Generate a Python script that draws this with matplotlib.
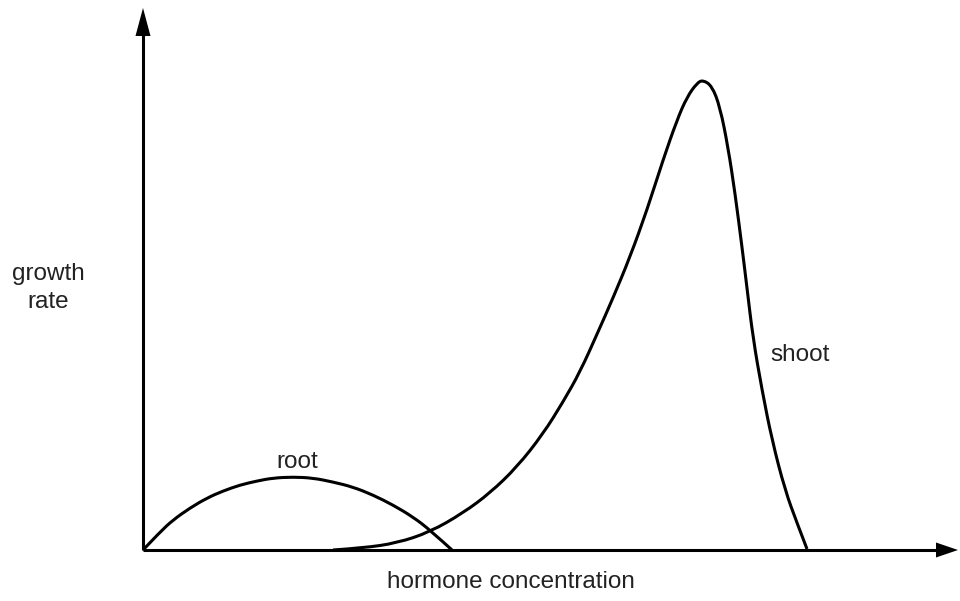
import matplotlib
matplotlib.use("Agg")
import matplotlib.pyplot as plt
from matplotlib.path import Path
from matplotlib.patches import PathPatch

plt.rcParams["font.family"] = ["Liberation Sans", "DejaVu Sans"]

# curves (arbitrary units: concentration vs growth rate)
root_x = [0, 17, 30, 47, 64, 80, 97, 114, 130, 150, 170, 190, 210, 230, 250,
          270, 287, 309]
root_y = [0, 18, 30, 42, 52, 59, 65, 69, 72, 73, 72, 68, 63, 55, 45, 33, 20, 0]

shoot_x = [190, 220, 254, 287, 320, 347, 374, 400, 420, 437, 455, 470, 487,
           504, 520, 534, 544, 554, 560, 569, 577, 585, 592, 599, 604, 610,
           619, 629, 642, 654, 664]
shoot_y = [0, 2, 7, 18, 37, 57, 83, 116, 148, 178, 218, 252, 293, 340, 390,
           430, 453, 467, 470, 464, 443, 403, 357, 303, 262, 212, 160, 110,
           60, 27, 1]

x_label = "hormone concentration"
y_label = "growth\nrate"


def smooth_path(xs, ys):
    # quadratic bezier through midpoints, read points act as control points
    pts = list(zip(xs, ys))
    verts = [pts[0]]
    codes = [Path.MOVETO]
    for i in range(1, len(pts) - 2):
        mid = ((pts[i][0] + pts[i + 1][0]) / 2, (pts[i][1] + pts[i + 1][1]) / 2)
        verts += [pts[i], mid]
        codes += [Path.CURVE3, Path.CURVE3]
    verts += [pts[-2], pts[-1]]
    codes += [Path.CURVE3, Path.CURVE3]
    return Path(verts, codes)


fig = plt.figure(figsize=(9.6, 6.01), dpi=100)
ax = fig.add_axes([0, 0, 1, 1])
ax.set_xlim(-143, 817)
ax.set_ylim(-51, 550)
ax.axis("off")

lw = 2.2
# axes with arrow heads
ax.plot([0, 0], [0, 515], color="black", lw=lw, solid_capstyle="butt")
ax.arrow(0, 510, 0, 32, width=0, head_width=15, head_length=28,
         length_includes_head=True, color="black", lw=0)
ax.plot([0, 795], [0, 0], color="black", lw=lw, solid_capstyle="butt")
ax.arrow(790, 0, 25, 0, width=0, head_width=15, head_length=22,
         length_includes_head=True, color="black", lw=0)

for xs, ys in [(root_x, root_y), (shoot_x, shoot_y)]:
    ax.add_patch(PathPatch(smooth_path(xs, ys), facecolor="none",
                           edgecolor="black", lw=lw, joinstyle="round"))

fs = 17.5
ax.text(154, 88, "root", fontsize=fs, ha="center", va="center", color="#222222")
ax.text(627, 195, "shoot", fontsize=fs, ha="left", va="center", color="#222222")
ax.text(368, -32, x_label, fontsize=fs, ha="center", va="center", color="#222222")
ax.text(-95, 262, y_label, fontsize=fs, ha="center", va="center",
        color="#222222", linespacing=1.3)

fig.savefig("out.png", dpi=100)
